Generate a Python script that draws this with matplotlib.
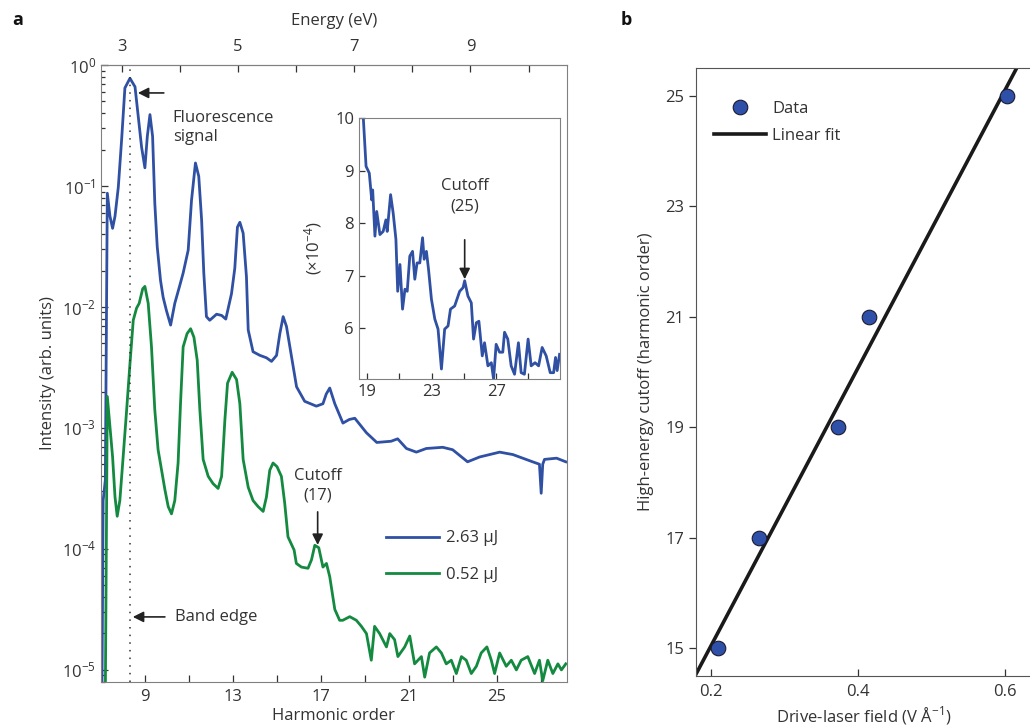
import numpy as np
import matplotlib
matplotlib.use('Agg')
import matplotlib.pyplot as plt
from matplotlib.ticker import FixedLocator, NullFormatter, LogLocator

plt.rcParams['font.family'] = ['Open Sans', 'DejaVu Sans']
plt.rcParams['mathtext.fontset'] = 'custom'
plt.rcParams['mathtext.rm'] = 'Open Sans'
plt.rcParams['text.color'] = '#333333'
plt.rcParams['axes.labelcolor'] = '#333333'
plt.rcParams['xtick.color'] = '#333333'
plt.rcParams['ytick.color'] = '#333333'

BLUE = '#2f50a3'
GREEN = '#138a40'

# photon energy of the drive laser (eV per harmonic order)
E_PH = 0.378
band_edge = 8.3

# 2.63 uJ spectrum: harmonic order, log10 intensity
h_hi = [7.05, 7.1, 7.2, 7.29, 7.41, 7.53, 7.64, 7.79, 7.94, 8.09, 8.32, 8.55,
        8.70, 8.85, 9.0, 9.11, 9.23, 9.35, 9.45, 9.56, 9.71, 9.83, 9.98, 10.17,
        10.36, 10.59, 10.74, 10.97, 11.12, 11.3, 11.45, 11.58, 11.68, 11.8, 11.95,
        12.26, 12.49, 12.68, 12.94, 13.09, 13.21, 13.32, 13.47, 13.62, 13.70,
        13.92, 14.23, 14.53, 14.76, 14.99, 15.14, 15.29, 15.44, 15.67, 15.9,
        16.27, 16.8, 17.1, 17.25, 17.41, 17.64, 18.01, 18.3, 18.55, 19.08, 19.55,
        20.2, 20.5, 20.9, 21.35, 21.8, 22.55, 23.0, 23.68, 24.23, 25.14, 25.74,
        26.64, 26.95, 27.03, 27.1, 27.18, 27.73, 28.15]
logI_hi = [-5.1, -3.6, -3.43, -1.06, -1.25, -1.35, -1.25, -1.01, -0.62, -0.19,
           -0.11, -0.18, -0.43, -0.68, -0.85, -0.59, -0.41, -0.59, -1.14, -1.5,
           -1.78, -1.92, -2.03, -2.15, -1.97, -1.82, -1.72, -1.53, -1.12, -0.81,
           -0.92, -1.28, -1.72, -2.08, -2.11, -2.06, -2.07, -2.1, -1.89, -1.68,
           -1.34, -1.3, -1.39, -1.75, -2.19, -2.37, -2.4, -2.42, -2.45, -2.4,
           -2.22, -2.08, -2.16, -2.41, -2.66, -2.78, -2.82, -2.8, -2.72, -2.67,
           -2.8, -2.96, -2.93, -2.92, -3.04, -3.12, -3.11, -3.09, -3.17, -3.2,
           -3.17, -3.16, -3.18, -3.28, -3.24, -3.2, -3.22, -3.28, -3.3, -3.54,
           -3.3, -3.26, -3.25, -3.28]

# 0.52 uJ spectrum
h_lo = [7.2, 7.29, 7.41, 7.53, 7.64, 7.74, 7.86, 8.01, 8.17, 8.32, 8.47, 8.62,
        8.74, 8.9, 9.0, 9.15, 9.3, 9.45, 9.6, 9.76, 9.91, 10.06, 10.21, 10.36,
        10.51, 10.62, 10.74, 10.92, 11.08, 11.23, 11.38, 11.5, 11.65, 11.88, 12.1,
        12.33, 12.49, 12.64, 12.76, 12.97, 13.17, 13.32, 13.47, 13.7, 13.92,
        14.15, 14.38, 14.53, 14.68, 14.83, 15.01, 15.21, 15.36, 15.51, 15.79,
        15.89, 16.12, 16.42, 16.58, 16.73, 16.91, 17.1, 17.26, 17.41, 17.64,
        17.86, 18.0, 18.32, 18.62, 18.85, 19.08, 19.3, 19.45, 19.68, 19.99, 20.14,
        20.36, 20.51, 20.82, 21.05, 21.27, 21.58, 21.73, 21.95, 22.26, 22.49,
        22.71, 22.94, 23.17, 23.4, 23.62, 23.85, 24.08, 24.3, 24.56, 24.76, 24.91,
        25.14, 25.44, 25.67, 25.9, 26.12, 26.42, 26.73, 26.95, 27.1, 27.33, 27.56,
        27.79, 27.95, 28.15]
logI_lo = [-5.2, -2.74, -2.99, -3.24, -3.57, -3.73, -3.6, -3.24, -2.85, -2.47,
           -2.11, -2.01, -1.97, -1.85, -1.83, -1.97, -2.33, -2.85, -3.18, -3.35,
           -3.51, -3.65, -3.71, -3.6, -3.29, -2.8, -2.33, -2.22, -2.18, -2.25,
           -2.44, -2.85, -3.26, -3.4, -3.46, -3.5, -3.4, -2.93, -2.63, -2.54, -2.6,
           -2.8, -3.26, -3.49, -3.6, -3.65, -3.69, -3.57, -3.35, -3.29, -3.32,
           -3.4, -3.62, -3.9, -4.01, -4.12, -4.15, -4.16, -4.09, -3.97, -3.99,
           -4.15, -4.12, -4.23, -4.5, -4.59, -4.59, -4.56, -4.59, -4.64, -4.7,
           -4.92, -4.64, -4.7, -4.81, -4.7, -4.75, -4.89, -4.81, -4.72, -4.95,
           -4.89, -5.06, -4.86, -4.81, -4.86, -4.95, -4.92, -5.03, -4.89, -4.92,
           -5.03, -4.97, -4.86, -4.81, -4.92, -5.03, -4.86, -4.97, -4.92, -5.0,
           -4.92, -4.89, -5.03, -4.92, -5.09, -4.92, -5.03, -4.95, -5.0, -4.95]

# inset: 2.63 uJ spectrum on linear scale (x 1e-4)
h_ins = [18.77, 18.94, 19.14, 19.29, 19.35, 19.49, 19.6, 19.8, 20.0, 20.17, 20.25,
         20.46, 20.62, 20.79, 20.9, 21.04, 21.2, 21.35, 21.49, 21.65, 21.82, 21.96,
         22.1, 22.27, 22.44, 22.54, 22.68, 22.81, 22.99, 23.2, 23.4, 23.61, 23.81,
         24.02, 24.17, 24.43, 24.74, 24.95, 25.05, 25.25, 25.46, 25.6, 25.77,
         25.93, 26.14, 26.28, 26.49, 26.7, 26.84, 27.0, 27.21, 27.41, 27.52,
         27.72, 27.93, 28.14, 28.38, 28.55, 28.75, 28.98, 29.17, 29.41, 29.63,
         29.85, 30.1, 30.35, 30.56, 30.68, 30.78, 30.93]
I_ins = [10.0, 9.08, 8.95, 8.44, 8.63, 7.75, 8.22, 7.78, 7.84, 8.06, 7.84, 8.54,
         8.19, 7.69, 6.7, 7.21, 6.36, 6.74, 6.7, 7.37, 7.46, 6.93, 7.24, 7.24,
         7.72, 7.31, 7.46, 7.12, 6.55, 6.17, 5.98, 5.22, 5.98, 6.04, 6.36, 6.42,
         6.7, 6.77, 6.9, 6.61, 6.48, 5.79, 6.1, 6.13, 5.47, 5.72, 5.28, 5.34,
         5.03, 5.69, 5.54, 5.54, 5.92, 5.79, 5.28, 5.12, 5.72, 5.15, 5.12, 5.79,
         5.28, 5.34, 5.28, 5.63, 5.47, 5.15, 5.15, 5.44, 5.19, 5.5]

# panel b
field = [0.21, 0.266, 0.373, 0.415, 0.602]
cutoff = [15, 17, 19, 21, 25]


fig = plt.figure(figsize=(10.3, 7.27), dpi=100)

# ---- panel a
ax = fig.add_axes([0.098, 0.0619, 0.4524, 0.8487])
ax.plot(h_hi, 10**np.array(logI_hi), color=BLUE, lw=2.0, label='2.63 μJ')
ax.plot(h_lo, 10**np.array(logI_lo), color=GREEN, lw=2.0, label='0.52 μJ')
ax.axvline(band_edge, color='#333333', lw=1.1, ls=(0, (1, 4)))
ax.set_yscale('log')
ax.set_xlim(7.0, 28.2)
ax.set_ylim(10**-5.1, 1)
ax.set_xticks([9, 13, 17, 21, 25])
ax.set_xticks([11, 15, 19, 23, 27], minor=True)
ax.set_yticks([10.0**k for k in range(-5, 1)])
ax.set_yticklabels([r'$\mathregular{10^{%d}}$' % k for k in range(-5, 1)])
ax.yaxis.set_minor_locator(LogLocator(base=10, subs=np.arange(2, 10)))
ax.yaxis.set_minor_formatter(NullFormatter())
ax.tick_params(which='both', direction='in', length=5, labelsize=12, width=0.9)
ax.tick_params(axis='x', pad=5)
ax.tick_params(axis='y', which='minor', length=3)
ax.set_xlabel('Harmonic order', fontsize=12, labelpad=2)
ax.set_ylabel('Intensity (arb. units)', fontsize=12, labelpad=4)
for s in ax.spines.values():
    s.set_color('#808080')

top = ax.secondary_xaxis('top', functions=(lambda h: h * E_PH, lambda e: e / E_PH))
top.set_xticks([3, 5, 7, 9])
top.xaxis.set_minor_locator(FixedLocator([4, 6, 8, 10]))
top.tick_params(which='both', direction='in', length=5, labelsize=12, width=0.9, pad=7)
top.set_xlabel('Energy (eV)', fontsize=12, labelpad=10)
top.spines['top'].set_color('#808080')

arrow = dict(arrowstyle='-|>', color='#222222', lw=1.2, mutation_scale=16,
             shrinkA=0, shrinkB=0)
ax.annotate('', xy=(8.68, 10**-0.231), xytext=(9.86, 10**-0.231), arrowprops=arrow)
ax.text(10.27, 10**-0.37, 'Fluorescence\nsignal', fontsize=12, va='top', ha='left',
        linespacing=1.3)
ax.annotate('', xy=(8.45, 10**-4.562), xytext=(9.91, 10**-4.562), arrowprops=arrow)
ax.text(10.36, 10**-4.562, 'Band edge', fontsize=12, va='center', ha='left')
ax.text(16.86, 10**-3.479, 'Cutoff\n(17)', fontsize=12, va='center', ha='center',
        linespacing=1.3)
ax.annotate('', xy=(16.86, 10**-3.967), xytext=(16.86, 10**-3.694), arrowprops=arrow)

ax.legend(loc='upper left', bbox_to_anchor=(0.579, 0.27), frameon=False,
          fontsize=12, handlelength=3.2, handletextpad=0.4, labelspacing=1.25)

# ---- inset
ins = fig.add_axes([0.3485, 0.4787, 0.1951, 0.359])
ins.plot(h_ins, I_ins, color=BLUE, lw=2.0)
ins.set_xlim(18.5, 30.95)
ins.set_ylim(5.03, 10)
ins.set_xticks([19, 23, 27])
ins.set_xticks([21, 25, 29], minor=True)
ins.set_yticks([6, 7, 8, 9, 10])
ins.tick_params(which='both', direction='in', length=4, labelsize=12, width=0.9)
ins.set_ylabel(r'($\mathregular{\times 10^{-4}}$)', fontsize=12, labelpad=8)
for s in ins.spines.values():
    s.set_color('#808080')
ins.text(25.05, 8.51, 'Cutoff\n(25)', fontsize=12, va='center', ha='center',
         linespacing=1.3)
ins.annotate('', xy=(25.05, 6.93), xytext=(25.05, 7.68), arrowprops=arrow)

# ---- panel b
axb = fig.add_axes([0.6757, 0.0702, 0.3262, 0.8363])
slope, icpt = np.polyfit(field, cutoff, 1)
xf = np.array([0.15, 0.66])
axb.plot(xf, slope * xf + icpt, color='#1a1a1a', lw=2.6, label='Linear fit', zorder=2)
axb.plot(field, cutoff, 'o', ms=10.5, mfc='#2f50a8', mec='#1a1a2e', mew=0.8,
         label='Data', zorder=3)
axb.set_xlim(0.18, 0.636)
axb.set_ylim(14.5, 25.5)
axb.set_xticks([0.2, 0.4, 0.6])
axb.set_yticks([15, 17, 19, 21, 23, 25])
axb.tick_params(axis='x', direction='in', length=5, labelsize=12, width=0.9, pad=6)
axb.tick_params(axis='y', direction='out', length=5, labelsize=12, width=0.9)
axb.set_xlabel(r'Drive-laser field (V Å$^{\mathregular{-1}}$)', fontsize=12, labelpad=3)
axb.set_ylabel('High-energy cutoff (harmonic order)', fontsize=12, labelpad=8)
for s in axb.spines.values():
    s.set_color('#555555')
h, l = axb.get_legend_handles_labels()
axb.legend([h[1], h[0]], [l[1], l[0]], loc='upper left', bbox_to_anchor=(0.009, 0.97),
           frameon=False, fontsize=12, handlelength=3.1, handletextpad=0.4,
           labelspacing=0.65)

fig.text(0.012, 0.965, 'a', fontsize=13, fontweight='bold', color='#111111')
fig.text(0.603, 0.965, 'b', fontsize=13, fontweight='bold', color='#111111')

fig.savefig('out.png', dpi=100)
